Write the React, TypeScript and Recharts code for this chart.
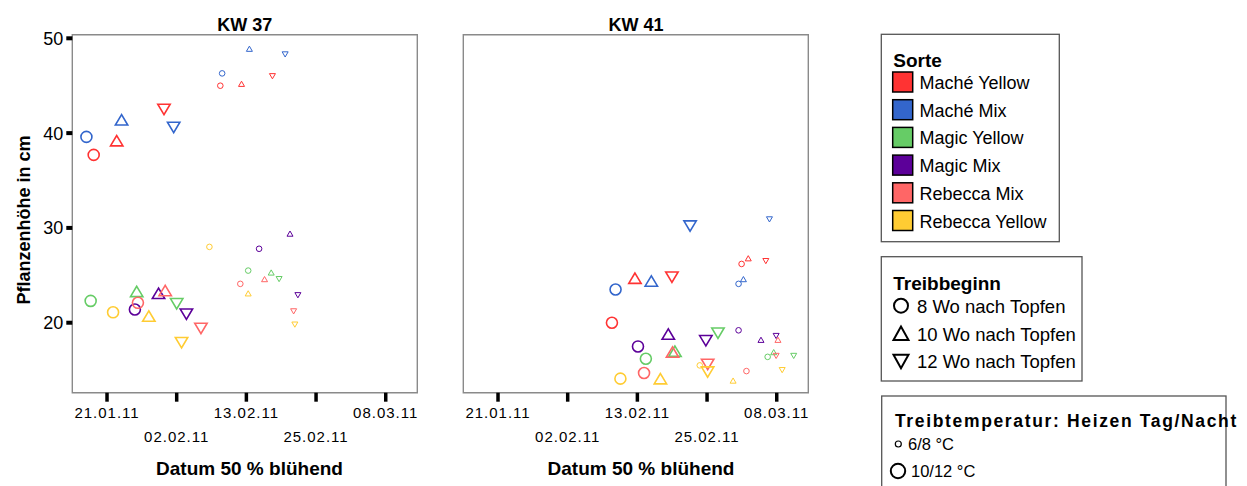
import { ScatterChart, Scatter, XAxis, YAxis, ReferenceArea } from 'recharts';

const FONT = '"Liberation Sans", Arial, Helvetica, sans-serif';

const SORTEN = ['Maché Yellow', 'Maché Mix', 'Magic Yellow', 'Magic Mix', 'Rebecca Mix', 'Rebecca Yellow'];
const FARBEN = ['#ff3333', '#3366cc', '#66cc66', '#5c0099', '#ff6666', '#ffcc33'];
const TREIBBEGINN = ['8 Wo nach Topfen', '10 Wo nach Topfen', '12 Wo nach Topfen'];
const TEMPERATUR = ['6/8 °C', '10/12 °C'];

// per Sorte: 8 / 10 / 12 Wo bei 10/12 °C, dann 8 / 10 / 12 Wo bei 6/8 °C
// x = Tag im Jahr 2011 (50 % blühend), y = Pflanzenhöhe in cm
const KW37_TAG = [
  [18.8, 22.6, 30.4, 39.7, 43.2, 48.3],
  [17.6, 23.4, 32.0, 40.0, 44.5, 50.4],
  [18.3, 25.9, 32.5, 44.3, 48.1, 49.4],
  [25.6, 29.5, 34.1, 46.1, 51.2, 52.5],
  [26.1, 30.6, 36.5, 43.0, 47.0, 51.8],
  [22.0, 27.9, 33.3, 37.9, 44.3, 52.0],
];
const KW37_HOEHE = [
  [37.7, 39.2, 42.5, 45.0, 45.2, 46.0],
  [39.6, 41.4, 40.6, 46.3, 48.9, 48.3],
  [22.3, 23.3, 22.0, 25.5, 25.3, 24.6],
  [21.4, 23.1, 20.9, 27.8, 29.4, 22.9],
  [22.1, 23.4, 19.4, 24.1, 24.6, 21.2],
  [21.1, 20.7, 17.9, 28.0, 23.1, 19.8],
];
const KW41_TAG = [
  [39.8, 43.6, 49.7, 61.2, 62.3, 65.2],
  [40.4, 46.3, 52.7, 60.7, 61.5, 65.8],
  [45.4, 50.2, 57.3, 65.5, 66.5, 69.8],
  [44.1, 49.1, 55.3, 60.7, 64.4, 66.9],
  [45.1, 49.8, 55.6, 62.0, 67.2, 66.9],
  [41.2, 47.8, 55.6, 54.3, 59.8, 67.9],
];
const KW41_HOEHE = [
  [20.0, 24.7, 24.8, 26.2, 26.8, 26.5],
  [23.5, 24.4, 30.2, 24.1, 24.6, 30.9],
  [16.2, 17.0, 18.9, 16.4, 16.9, 16.5],
  [17.5, 18.8, 18.1, 19.2, 18.2, 18.6],
  [14.7, 16.9, 15.6, 14.9, 18.2, 16.5],
  [14.1, 14.1, 14.8, 15.5, 13.9, 15.0],
];

const X_TICKS = [21, 32.5, 44, 55.5, 67];
const X_LABELS = ['21.01.11', '02.02.11', '13.02.11', '25.02.11', '08.03.11'];
const Y_TICKS = [20, 30, 40, 50];
const X_DOMAIN = [15.27, 72.21];
const Y_DOMAIN = [12.62, 50.38];

const Marker = (props: any) => {
  const { cx, cy, payload, color } = props;
  if (cx == null || cy == null) return null;
  const big = payload.warm;
  const sw = big ? 1.6 : 1;
  if (payload.beginn === 0) {
    return <circle cx={cx} cy={cy} r={big ? 5.5 : 2.8} fill="none" stroke={color} strokeWidth={sw} />;
  }
  const w = big ? 6.2 : 3;
  const h = big ? 5.2 : 2.6;
  const pts = payload.beginn === 1
    ? `${cx},${cy - h} ${cx - w},${cy + h} ${cx + w},${cy + h}`
    : `${cx},${cy + h} ${cx - w},${cy - h} ${cx + w},${cy - h}`;
  return <polygon points={pts} fill="none" stroke={color} strokeWidth={sw} strokeLinejoin="miter" />;
};

const XTick = ({ x, y, payload }: any) => {
  const i = X_TICKS.indexOf(payload.value);
  return (
    <text x={x} y={y} dy={i % 2 ? 38.6 : 14.6} textAnchor="middle" fontSize={15} letterSpacing={1}
      fontFamily={FONT} fill="#000">
      {X_LABELS[i]}
    </text>
  );
};

function Panel({ left, tage, hoehen, yLabels }: { left: number; tage: number[][]; hoehen: number[][]; yLabels: boolean }) {
  return (
    <div style={{ position: 'absolute', left, top: 0 }}>
      <ScatterChart width={430} height={486} margin={{ top: 34.7, right: 12.7, bottom: 33.3, left: 42.3 }}>
        <XAxis type="number" dataKey="x" domain={X_DOMAIN} ticks={X_TICKS} interval={0} allowDataOverflow
          axisLine={false} tickLine={{ stroke: '#000', strokeWidth: 3.5 }} tickSize={9} tickMargin={2}
          height={60} tick={<XTick />} />
        <YAxis type="number" dataKey="y" domain={Y_DOMAIN} ticks={Y_TICKS} interval={0} allowDataOverflow width={30}
          axisLine={false} tickLine={{ stroke: '#000', strokeWidth: 4 }} tickSize={6} tickMargin={3}
          tick={yLabels ? { fontSize: 18, fill: '#000', fontFamily: FONT } : false} />
        <ReferenceArea x1={X_DOMAIN[0]} x2={X_DOMAIN[1]} y1={Y_DOMAIN[0]} y2={Y_DOMAIN[1]}
          fill="none" fillOpacity={0} stroke="#8a8a8a" strokeWidth={1.4} strokeOpacity={1} />
        {SORTEN.map((s, i) => (
          <Scatter
            key={s}
            name={s}
            data={tage[i].map((t, j) => ({ x: t, y: hoehen[i][j], beginn: j % 3, warm: j < 3 }))}
            isAnimationActive={false}
            shape={(p: any) => <Marker {...p} color={FARBEN[i]} />}
          />
        ))}
      </ScatterChart>
    </div>
  );
}

function Legenden() {
  const sw0 = 72;
  const step = 27.7;
  return (
    <svg width={1247} height={486} style={{ position: 'absolute', left: 0, top: 0, pointerEvents: 'none' }}
      fontFamily={FONT}>
      {/* panel titles + axis titles */}
      <text x={244.7} y={30.5} textAnchor="middle" fontSize={18} fontWeight="bold">KW 37</text>
      <text x={636} y={30.5} textAnchor="middle" fontSize={18} fontWeight="bold">KW 41</text>
      <text x={249.5} y={475} textAnchor="middle" fontSize={19} fontWeight="bold">Datum 50 % blühend</text>
      <text x={641} y={475} textAnchor="middle" fontSize={19} fontWeight="bold">Datum 50 % blühend</text>
      <text transform="translate(30,220) rotate(-90)" textAnchor="middle" fontSize={18} fontWeight="bold">
        Pflanzenhöhe in cm
      </text>

      {/* Sorte */}
      <rect x={881.3} y={34.3} width={178} height={207.4} fill="none" stroke="#555" strokeWidth={1.3} />
      <text x={893.3} y={66.7} fontSize={19} fontWeight="bold">Sorte</text>
      {SORTEN.map((s, i) => (
        <g key={s}>
          <rect x={892.7} y={sw0 + i * step} width={20} height={20} fill={FARBEN[i]} stroke="#000" strokeWidth={1.5} />
          <text x={919.5} y={sw0 + i * step + 17} fontSize={18}>{s}</text>
        </g>
      ))}

      {/* Treibbeginn */}
      <rect x={881.3} y={256.7} width={200.7} height={124.3} fill="none" stroke="#555" strokeWidth={1.3} />
      <text x={893.3} y={290} fontSize={19} fontWeight="bold">Treibbeginn</text>
      {TREIBBEGINN.map((t, i) => {
        const cy = 305.7 + i * 27.8;
        const icon = i === 0
          ? <circle cx={901} cy={cy} r={7} fill="none" stroke="#000" strokeWidth={2} />
          : <polygon
              points={i === 1
                ? `901,${cy - 7} 893.5,${cy + 6.5} 908.5,${cy + 6.5}`
                : `901,${cy + 7} 893.5,${cy - 6.5} 908.5,${cy - 6.5}`}
              fill="none" stroke="#000" strokeWidth={2} />;
        return (
          <g key={t}>
            {icon}
            <text x={917} y={cy + 7} fontSize={18.5}>{t}</text>
          </g>
        );
      })}

      {/* Treibtemperatur */}
      <rect x={881.7} y={396} width={344.3} height={100} fill="none" stroke="#555" strokeWidth={1.3} />
      <text x={895} y={427.3} fontSize={17.5} fontWeight="bold" letterSpacing={1.65}>Treibtemperatur: Heizen Tag/Nacht</text>
      <circle cx={898.3} cy={444} r={3} fill="none" stroke="#000" strokeWidth={1.2} />
      <text x={908} y={450} fontSize={16.5}>{TEMPERATUR[0]}</text>
      <circle cx={898} cy={471} r={7.2} fill="none" stroke="#000" strokeWidth={2} />
      <text x={911} y={477} fontSize={16.5}>{TEMPERATUR[1]}</text>
    </svg>
  );
}

export default function App() {
  return (
    <div style={{ position: 'absolute', left: 0, top: 0, width: 1247, height: 486, background: '#fff', overflow: 'hidden' }}>
      <Panel left={0} tage={KW37_TAG} hoehen={KW37_HOEHE} yLabels />
      <Panel left={391.4} tage={KW41_TAG} hoehen={KW41_HOEHE} yLabels={false} />
      <Legenden />
    </div>
  );
}
